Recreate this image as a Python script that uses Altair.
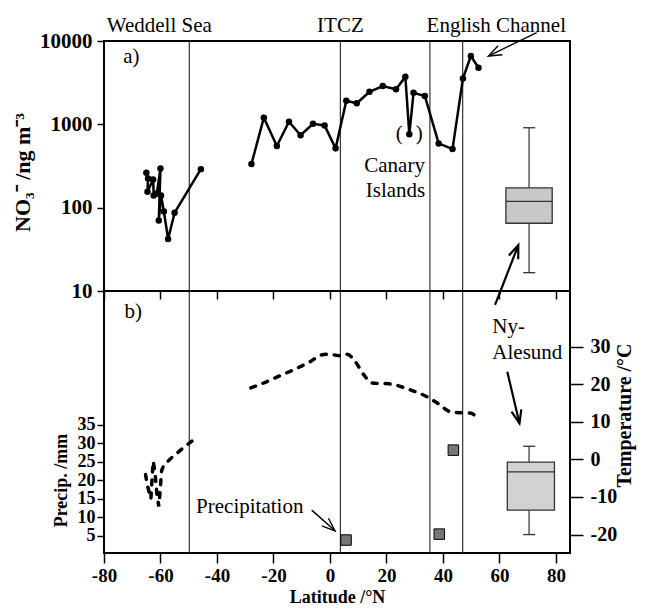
import math
import altair as alt
import pandas as pd

FONT = "Liberation Serif"

# ---------------- values ----------------
# a) NO3- (ng m-3) along the two cruise tracks
wed_lat = [-65.0, -64.4, -64.6, -62.6, -62.4, -61.3, -60.0, -60.6, -59.8, -58.8, -57.3, -55.0, -45.7]
wed_no3 = [262, 224, 155, 218, 140, 148, 295, 70, 140, 90, 42, 87, 290]
atl_lat = [-27.8, -23.4, -18.8, -14.5, -10.4, -6.0, -1.9, 2.0, 5.8, 9.5, 14.0, 18.7, 23.4,
           26.7, 28.1, 29.6, 33.6, 38.5, 43.4, 47.1, 49.9, 52.6]
atl_no3 = [334, 1200, 550, 1075, 740, 1015, 970, 515, 1920, 1790, 2460, 2880, 2630,
           3730, 760, 2390, 2190, 590, 505, 3560, 6600, 4770]

# b) air temperature (deg C)
wed_t_lat = [-65.3, -64.6, -63.4, -62.6, -62.0, -61.3, -60.6, -60.2, -59.6, -58.8, -56.0, -52.0, -47.0]
wed_t = [-4.0, -7.0, -10.5, -0.5, -3.0, -9.0, -12.5, -9.0, -3.0, -1.5, 0.5, 3.0, 6.0]
atl_t_lat = [-28.0, -22.0, -17.0, -13.0, -7.0, -3.0, 0.0, 3.0, 6.0, 9.0, 12.0, 15.0, 21.0,
             28.0, 34.0, 38.0, 43.0, 47.0, 50.0, 52.0]
atl_t = [19.0, 20.8, 22.5, 23.8, 26.0, 27.8, 28.0, 27.6, 28.0, 26.0, 22.5, 20.3, 20.1,
         18.6, 16.8, 15.0, 12.6, 12.4, 12.3, 11.0]

# b) precipitation events (mm)
precip_lat = [5.7, 38.7, 43.7]
precip_mm = [3.9, 5.5, 28.2]

# Ny-Alesund summaries: [low whisker, Q1, median, Q3, high whisker]
ny_no3 = [16.6, 65, 119, 173, 910]
ny_temp = [-20.0, -13.5, -3.3, -0.7, 3.5]
ny_lat = 70.5
ny_box_a = [62.3, 78.7]
ny_box_b = [62.8, 79.5]
ny_cap = [68.4, 72.7]

# boundaries (Weddell Sea, ITCZ, Canary Islands, English Channel)
front_lat = [-49.8, 3.7, 35.4, 47.0]

top_label = ["Weddell Sea", "ITCZ", "English Channel"]
top_label_lat = [-60.4, 3.7, 58.9]

# ---------------- geometry of the two stacked panels ----------------
W, HA, HB = 466, 250, 262          # plot width, panel a height, panel b height
X_DOM = [-80, 85]
x_ticks = [-80, -60, -40, -20, 0, 20, 40, 60, 80]

KX = W / (X_DOM[1] - X_DOM[0])
# panel a: log NO3 axis, 10..10000 over the upper HA pixels
KYA = HA / 3.0
NO3_DOM = [10 ** (4 - (HA + HB) / KYA), 10000]
# panel b: temperature (right) and precipitation (left) over the lower HB pixels
T_LO, T_HI = -24.9, 44.8
KYT = HB / (T_HI - T_LO)
T_DOM = [T_LO, T_HI + HA / KYT]
P_LO, P_HI = 0.4, 71.2
KYP = HB / (P_HI - P_LO)
P_DOM = [P_LO, P_HI + HA / KYP]


def ang(dx, dy):
    return math.degrees(math.atan2(dy, dx)) % 360


HEAD = "M-1,-0.38L0,0L-1,0.38"

xs = alt.Scale(domain=X_DOM, nice=False, zero=False)
ys_a = alt.Scale(type="log", domain=NO3_DOM, nice=False)
ys_t = alt.Scale(domain=T_DOM, nice=False, zero=False)
ys_p = alt.Scale(domain=P_DOM, nice=False, zero=False)

# ---------------- upper panel (a) ----------------
xa = alt.X("lat:Q", scale=xs,
           axis=alt.Axis(values=x_ticks, labels=False, tickSize=8, title=None, domain=False,
                         orient="bottom", offset=-HB))
ya = alt.Y("no3:Q", scale=ys_a,
           axis=alt.Axis(values=[10, 100, 1000, 10000], labelExpr="''+datum.value",
                         tickSize=7, labelPadding=5, labelFontSize=21, domain=False,
                         title="NO₃⁻ /ng m⁻³", titleFontSize=22, titleAngle=270,
                         titleX=-75, titleY=131, titleBaseline="alphabetic"))

no3_df = pd.DataFrame({
    "lat": wed_lat + atl_lat,
    "no3": wed_no3 + atl_no3,
    "seg": ["w"] * len(wed_lat) + ["a"] * len(atl_lat),
    "idx": list(range(len(wed_lat) + len(atl_lat))),
})

fronts = alt.Chart(pd.DataFrame({"lat": front_lat})).mark_rule(
    color="#333", strokeWidth=1.2).encode(x=xa)
midline = alt.Chart(pd.DataFrame({"no3": [10]})).mark_rule(
    color="black", strokeWidth=2).encode(y=ya)

line_a = alt.Chart(no3_df).mark_line(color="black", strokeWidth=2.5).encode(
    x=xa, y=ya, detail="seg:N", order="idx:Q")
pts_a = alt.Chart(no3_df).mark_circle(color="black", size=42, opacity=1).encode(x=xa, y=ya)

box_a = alt.Chart(pd.DataFrame({"lat": [ny_box_a[0]], "lat2": [ny_box_a[1]],
                                "no3": [ny_no3[1]], "no3_2": [ny_no3[3]]})).mark_rect(
    fill="#c8c8c8", stroke="#333", strokeWidth=1.3).encode(x=xa, x2="lat2", y=ya, y2="no3_2")
whisk_a = alt.Chart(pd.DataFrame({"lat": [ny_lat, ny_lat], "no3": [ny_no3[0], ny_no3[3]],
                                  "no3_2": [ny_no3[1], ny_no3[4]]})).mark_rule(
    color="#333", strokeWidth=1.2).encode(x=xa, y=ya, y2="no3_2")
hlines_a = alt.Chart(pd.DataFrame({"lat": [ny_cap[0], ny_cap[0], ny_box_a[0]],
                                   "lat2": [ny_cap[1], ny_cap[1], ny_box_a[1]],
                                   "no3": [ny_no3[0], ny_no3[4], ny_no3[2]]})).mark_rule(
    color="#333", strokeWidth=1.3).encode(x=xa, x2="lat2", y=ya)

txt_a = alt.Chart(pd.DataFrame({
    "lat": [-70.3, 22.9, 23.2] + top_label_lat,
    "no3": [5450, 267, 135] + [13000] * 3,
    "label": ["a)", "Canary", "Islands"] + top_label,
})).mark_text(font=FONT, fontSize=21, align="center", baseline="alphabetic",
              color="black").encode(x=xa, y=ya, text="label:N")
paren_l = alt.Chart(pd.DataFrame({"lat": [28.1], "no3": [760], "label": ["("]})).mark_text(
    font=FONT, fontSize=21, baseline="middle", dx=-10, color="black").encode(x=xa, y=ya, text="label:N")
paren_r = alt.Chart(pd.DataFrame({"lat": [28.1], "no3": [760], "label": [")"]})).mark_text(
    font=FONT, fontSize=21, baseline="middle", dx=10, color="black").encode(x=xa, y=ya, text="label:N")

arr_a = pd.DataFrame({"lat": [73.2, 60.4], "no3": [12580, 10.0],
                      "lat2": [56.1, 66.7], "no3_2": [6600, 35.6],
                      "w": [1.4, 2.2]})
arr_a["ang"] = [ang((r.lat2 - r.lat) * KX, -(math.log10(r.no3_2) - math.log10(r.no3)) * KYA)
                for r in arr_a.itertuples()]
shaft_a = alt.Chart(arr_a).mark_rule(color="black").encode(
    x=xa, x2="lat2", y=ya, y2="no3_2", strokeWidth=alt.StrokeWidth("w:Q", scale=None))
heads_a = pd.DataFrame({"lat": arr_a["lat2"], "no3": arr_a["no3_2"],
                        "ang": arr_a["ang"], "w": arr_a["w"]})
head_a = alt.Chart(heads_a).mark_point(shape=HEAD, filled=False, size=700, opacity=1,
                                       color="black").encode(
    x=xa, y=ya, angle=alt.Angle("ang:Q", scale=None),
    strokeWidth=alt.StrokeWidth("w:Q", scale=None))

group_a = alt.layer(fronts, midline, box_a, whisk_a, hlines_a, line_a, pts_a, txt_a,
                    paren_l, paren_r, shaft_a, head_a)

# ---------------- lower panel (b) ----------------
xb = alt.X("lat:Q", scale=xs,
           axis=alt.Axis(values=x_ticks, labelExpr="''+datum.value", labelFlush=False,
                         tickSize=10, labelPadding=3, labelFontSize=19, domain=False,
                         title="Latitude /°N", titleFontSize=18, titleY=35,
                         orient="bottom"))
yt = alt.Y("temp:Q", scale=ys_t,
           axis=alt.Axis(orient="right", values=[-20, -10, 0, 10, 20, 30],
                         labelExpr="''+datum.value", tickSize=13, labelPadding=7,
                         labelFontSize=20, domain=False, title="Temperature /°C", titleFontSize=20,
                         titleAngle=270, titleX=60, titleY=HA + 124, titleBaseline="alphabetic"))
yp = alt.Y("mm:Q", scale=ys_p,
           axis=alt.Axis(orient="left", values=[5, 10, 15, 20, 25, 30, 35], tickSize=7,
                         labelPadding=2, labelFontSize=18, domain=False,
                         title="Precip. /mm", titleFontSize=18,
                         titleAngle=270, titleX=-38, titleY=HA + 189, titleBaseline="alphabetic"))

temp_df = pd.DataFrame({"lat": wed_t_lat + atl_t_lat, "temp": wed_t + atl_t,
                        "idx": list(range(len(wed_t_lat) + len(atl_t_lat))),
                        "seg": ["w"] * len(wed_t_lat) + ["a"] * len(atl_t_lat)})
t_w = alt.Chart(temp_df).transform_filter("datum.seg == 'w'").mark_line(
    color="black", strokeWidth=3.5, strokeDash=[5, 8], strokeCap="round").encode(
    x=xb, y=yt, order="idx:Q")
t_a = alt.Chart(temp_df).transform_filter("datum.seg == 'a'").mark_line(
    color="black", strokeWidth=3.5, strokeDash=[5, 8], strokeCap="round",
    interpolate="monotone").encode(x=xb, y=yt, order="idx:Q")

box_b = alt.Chart(pd.DataFrame({"lat": [ny_box_b[0]], "lat2": [ny_box_b[1]],
                                "temp": [ny_temp[1]], "temp2": [ny_temp[3]]})).mark_rect(
    fill="#d2d2d2", stroke="#333", strokeWidth=1.3).encode(x=xb, x2="lat2", y=yt, y2="temp2")
whisk_b = alt.Chart(pd.DataFrame({"lat": [ny_lat, ny_lat], "temp": [ny_temp[0], ny_temp[3]],
                                  "temp2": [ny_temp[1], ny_temp[4]]})).mark_rule(
    color="#333", strokeWidth=1.2).encode(x=xb, y=yt, y2="temp2")
hlines_b = alt.Chart(pd.DataFrame({"lat": [ny_cap[0], ny_cap[0], ny_box_b[0]],
                                   "lat2": [ny_cap[1], ny_cap[1], ny_box_b[1]],
                                   "temp": [ny_temp[0], ny_temp[4], ny_temp[2]]})).mark_rule(
    color="#333", strokeWidth=1.3).encode(x=xb, x2="lat2", y=yt)

txt_bc = alt.Chart(pd.DataFrame({"lat": [-69.6, -28.4], "temp": [37.7, -14.2],
                                 "label": ["b)", "Precipitation"]})).mark_text(
    font=FONT, fontSize=21, align="center", baseline="alphabetic", color="black").encode(
    x=xb, y=yt, text="label:N")
txt_bl = alt.Chart(pd.DataFrame({"lat": [57.5, 57.5], "temp": [33.5, 26.8],
                                 "label": ["Ny-", "Alesund"]})).mark_text(
    font=FONT, fontSize=21, align="left", baseline="alphabetic", color="black").encode(
    x=xb, y=yt, text="label:N")

arr_b = pd.DataFrame({"lat": [58.45, 62.8, -6.45], "temp": [41.1, 23.3, -13.5],
                      "lat2": [60.4, 67.1, 1.8], "temp2": [44.8, 9.6, -19.0],
                      "w": [2.2, 2.2, 1.4], "head": [False, True, True]})
arr_b["ang"] = [ang((r.lat2 - r.lat) * KX, -(r.temp2 - r.temp) * KYT) for r in arr_b.itertuples()]
shaft_b = alt.Chart(arr_b).mark_rule(color="black").encode(
    x=xb, x2="lat2", y=yt, y2="temp2", strokeWidth=alt.StrokeWidth("w:Q", scale=None))
hb = arr_b[arr_b["head"]]
heads_b = pd.DataFrame({"lat": hb["lat2"], "temp": hb["temp2"], "ang": hb["ang"], "w": hb["w"]})
head_b = alt.Chart(heads_b).mark_point(
    shape=HEAD, filled=False, size=700, opacity=1, color="black").encode(
    x=xb, y=yt, angle=alt.Angle("ang:Q", scale=None),
    strokeWidth=alt.StrokeWidth("w:Q", scale=None))

group_b = alt.layer(t_w, t_a, box_b, whisk_b, hlines_b, txt_bc, txt_bl, shaft_b, head_b)

precip = alt.Chart(pd.DataFrame({"lat": precip_lat, "mm": precip_mm})).mark_square(
    size=110, color="#777777", stroke="black", strokeWidth=1, opacity=1).encode(
    x=alt.X("lat:Q", scale=xs, axis=None), y=yp)

chart = alt.layer(group_a, group_b, precip).properties(
    width=W, height=HA + HB,
    resolve=alt.Resolve(scale=alt.ScaleResolveMap(y="independent"),
                        axis=alt.AxisResolveMap(x="independent", y="independent")),
    autosize=alt.AutoSizeParams(type="none"),
    padding={"left": 96, "top": 33, "right": 67, "bottom": 55},
).configure_view(stroke="black", strokeWidth=2).configure_axis(
    labelFont=FONT, titleFont=FONT, labelFontWeight="bold", titleFontWeight="bold",
    labelColor="black", titleColor="black", domainColor="black", tickColor="black",
    tickWidth=1.5, grid=False)

chart.save("out.html", embed_options={"renderer": "svg", "actions": False})
